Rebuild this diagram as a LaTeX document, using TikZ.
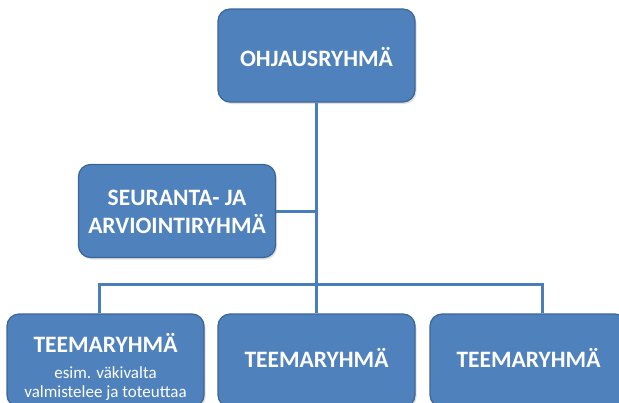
\documentclass[tikz,border=0pt]{standalone}
\usepackage{fontspec}
\setmainfont{Carlito}
\usetikzlibrary{shadows}
\definecolor{boxfill}{HTML}{4F81BD}
\definecolor{boxline}{HTML}{3A6596}
\definecolor{conn}{HTML}{4A7EBB}
\begin{document}
\begin{tikzpicture}[x=1pt,y=-1pt,
  orgbox/.style={draw=boxline, line width=1.2pt, fill=boxfill, rounded corners=12pt,
    minimum width=197pt, minimum height=93pt, inner sep=0pt,
    drop shadow={opacity=0.25, shadow xshift=1.5pt, shadow yshift=-2pt}},
  title/.style={text=white, font=\fontsize{23.5}{28}\selectfont\bfseries, align=center},
  small/.style={text=white, font=\fontsize{17}{19}\selectfont, align=center},
  link/.style={draw=conn, line width=3pt}]
\useasboundingbox (0,0) rectangle (619,402);
\clip (0,0) rectangle (619,402);
\coordinate (bus) at (316.5,284);
\coordinate (j1) at (99,284);
\coordinate (j3) at (542,284);
\node[orgbox] (top) at (316.5,55.5) {};
\node[orgbox] (seur) at (177,211) {};
\node[orgbox] (b1) at (105.5,360.5) {};
\node[orgbox] (b2) at (316.5,360.5) {};
\node[orgbox] (b3) at (528.5,360.5) {};
\draw[link] (top.south -| bus) -- (bus |- b2.north);
\draw[link] (seur.east) -- (seur.east -| bus);
\draw[link] (j1 |- b1.north) -- (j1) -- (j3) -- (j3 |- b3.north);
\node[title] (ttop) at (316.5,57) {OHJAUSRYHMÄ};
\node[title] (tseur) at (177,212) {SEURANTA- JA\\ARVIOINTIRYHMÄ};
\node[title] (tb1) at (105.5,343) {TEEMARYHMÄ};
\node[small] (sb1) at (105.5,384) {esim. väkivalta\\valmistelee ja toteuttaa};
\node[title] (tb2) at (316.5,358) {TEEMARYHMÄ};
\node[title] (tb3) at (528.5,358) {TEEMARYHMÄ};
\end{tikzpicture}
\end{document}
